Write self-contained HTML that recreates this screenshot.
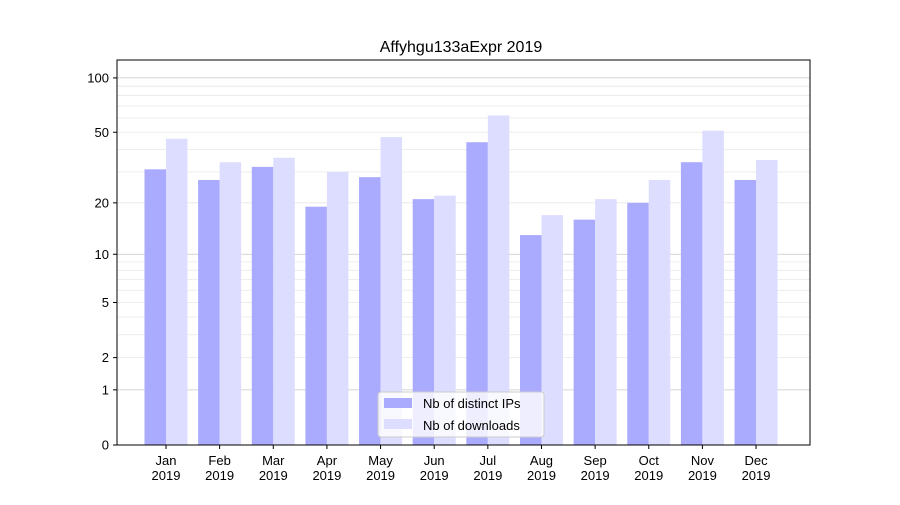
<!DOCTYPE html>
<html><head><meta charset="utf-8"><style>body{margin:0;background:#fff}svg{font-family:"Liberation Sans","DejaVu Sans",sans-serif}</style></head>
<body>
<svg id="chart" width="900" height="500"></svg>
<script>
const categories=["Jan","Feb","Mar","Apr","May","Jun","Jul","Aug","Sep","Oct","Nov","Dec"];
const ipValues=[31,27,32,19,28,21,44,13,16,20,34,27];
const downloadValues=[46,34,36,30,47,22,62,17,21,27,51,35];
const tickValues=[0,1,2,5,10,20,50,100];
const yearLabel="2019";
const NS="http://www.w3.org/2000/svg";
const svg=document.getElementById('chart');
const L=117,R=810,T=60,B=445,yMax=125.5;
function f(v){return Math.log10(1+v);}
function y(v){return B-(B-T)*f(v)/f(yMax);}
const step=53.64;
function xc(i){return L+49+step*i;}
const bw=21.5;
function el(tag,attrs,parent){const e=document.createElementNS(NS,tag);for(const k in attrs)e.setAttribute(k,attrs[k]);(parent||svg).appendChild(e);return e;}
const grid=el('g',{});


[[1,10],[10,100]].forEach(([a,m])=>{for(let k=2;k<=9;k++){const v=a*k;if(v>yMax)break;el('line',{x1:L,x2:R,y1:y(v),y2:y(v),stroke:'#e8e8e8','stroke-width':0.8},grid);}});
[1,10,100].forEach(v=>{el('line',{x1:L,x2:R,y1:y(v),y2:y(v),stroke:'#c8c8c8','stroke-width':0.8},grid);});
categories.forEach((c,i)=>{
 const b1=el('rect',{x:xc(i)-bw,y:y(ipValues[i]),width:bw,height:B-y(ipValues[i]),fill:'#aaaaff'});
 
 
 const b2=el('rect',{x:xc(i),y:y(downloadValues[i]),width:bw,height:B-y(downloadValues[i]),fill:'#ddddff'});
 
 
 el('line',{x1:xc(i),x2:xc(i),y1:B,y2:B+4,stroke:'#000'});
 const t=el('text',{x:xc(i),y:B+20,'text-anchor':'middle','font-size':13});
 t.textContent=c;
 
 
 const t2=el('text',{x:xc(i),y:B+35,'text-anchor':'middle','font-size':13});
 t2.textContent=yearLabel;
 
 
});
tickValues.forEach(v=>{
 el('line',{x1:L-4,x2:L,y1:y(v),y2:y(v),stroke:'#000'});
 const t=el('text',{x:L-8,y:y(v)+4.5,'text-anchor':'end','font-size':13});
 t.textContent=v;
 
 
});
const frame=el('rect',{x:L,y:T,width:R-L,height:B-T,fill:'none',stroke:'#000','stroke-width':1});


const title=el('text',{x:461,y:52,'text-anchor':'middle','font-size':16});
title.textContent='Affyhgu133aExpr 2019';


const lg=el('g',{});


el('rect',{x:378,y:392,width:166,height:45,rx:3,fill:'#fff','fill-opacity':0.8,stroke:'#ccc'},lg);
el('rect',{x:384,y:398,width:28,height:10,fill:'#aaaaff'},lg);
el('rect',{x:384,y:419,width:28,height:10,fill:'#ddddff'},lg);
const l1=el('text',{x:423,y:408,'font-size':13},lg);l1.textContent='Nb of distinct IPs';


const l2=el('text',{x:423,y:430,'font-size':13},lg);l2.textContent='Nb of downloads';


</script>
</body></html>
